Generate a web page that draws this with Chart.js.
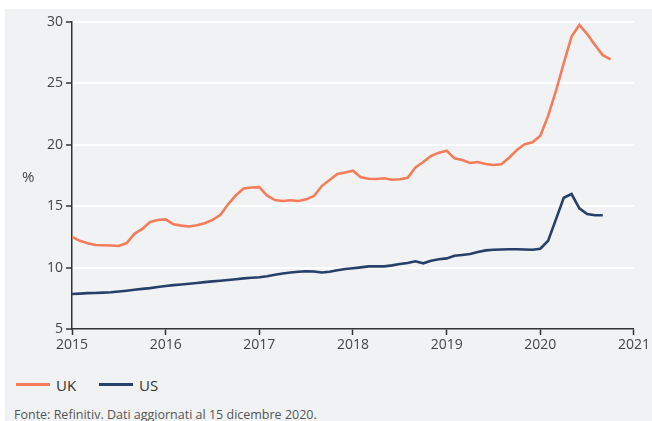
<!DOCTYPE html>
<html>
<head>
<meta charset="utf-8">
<script src="https://cdn.jsdelivr.net/npm/chart.js@4"></script>
<style>
  html, body { margin: 0; padding: 0; background: #fff; }
  #box { position: absolute; left: 5px; top: 9px; width: 647px; height: 412px; background: #f1f2f4; overflow: hidden;
         font-family: "Open Sans", "Noto Sans", sans-serif; color: #444; }
  #wrap { position: absolute; left: 0; top: 0; width: 647px; height: 351px; }
  #unit { position: absolute; left: 17px; top: 157px; font-size: 15px; color: #444; }
  #legend { position: absolute; left: 11px; top: 364px; font-size: 15px; color: #333; }
  #legend span.sw { display: inline-block; width: 34px; height: 3px; vertical-align: middle; margin-right: 6px; }
  #legend span.lab { vertical-align: middle; margin-right: 19px; }
  #source { position: absolute; left: 9px; top: 397px; font-size: 12.5px; color: #555; }
</style>
</head>
<body>
<div id="box">
  <div id="wrap"><canvas id="myChart" width="647" height="351"></canvas></div>
  <div id="unit">%</div>
  <div id="legend">
    <span class="sw" style="background:#f47c5a"></span><span class="lab">UK</span>
    <span class="sw" style="background:#27406a"></span><span class="lab">US</span>
  </div>
  <div id="source">Fonte: Refinitiv. Dati aggiornati al 15 dicembre 2020.</div>
</div>
<script>
  // monthly values, starting January 2015
  var start_year = 2015
  var uk_values = [
    12.5, 12.18, 11.98, 11.84, 11.82, 11.8, 11.76, 12.0, 12.75, 13.15, 13.72, 13.88,
    13.93, 13.52, 13.42, 13.35, 13.45, 13.62, 13.88, 14.28, 15.15, 15.9, 16.45, 16.52,
    16.55, 15.85, 15.5, 15.42, 15.48, 15.42, 15.56, 15.83, 16.64, 17.13, 17.62, 17.75,
    17.89, 17.35, 17.24, 17.21, 17.27, 17.16, 17.19, 17.32, 18.15, 18.6, 19.09, 19.36,
    19.52, 18.9, 18.76, 18.52, 18.6, 18.44, 18.36, 18.41, 18.95, 19.58, 20.04, 20.2,
    20.74, 22.35, 24.4, 26.64, 28.81, 29.76, 29.02, 28.13, 27.3, 26.96
  ]
  var us_values = [
    7.85, 7.88, 7.92, 7.93, 7.96, 7.99, 8.05, 8.12, 8.2, 8.27, 8.33, 8.42,
    8.5, 8.57, 8.62, 8.68, 8.75, 8.82, 8.88, 8.93, 8.99, 9.05, 9.12, 9.17,
    9.22, 9.3, 9.42, 9.52, 9.6, 9.66, 9.7, 9.68, 9.6, 9.66, 9.78, 9.88,
    9.95, 10.02, 10.1, 10.1, 10.1, 10.18, 10.3, 10.38, 10.52, 10.35, 10.56, 10.68,
    10.75, 10.97, 11.03, 11.1, 11.27, 11.4, 11.45, 11.47, 11.5, 11.5, 11.48, 11.45,
    11.54, 12.19, 13.93, 15.69, 15.99, 14.83, 14.36, 14.26, 14.26
  ]
  var year_ticks = [2015, 2016, 2017, 2018, 2019, 2020, 2021]
  var pct_ticks = [5, 10, 15, 20, 25, 30]

  function to_points(values){
    return values.map(function(v, i){ return { x: start_year + i / 12, y: v } })
  }

  var tick_font = { family: '"Open Sans", "Noto Sans", sans-serif', size: 14 }

  var ctx = document.getElementById('myChart').getContext('2d');
  var myChart = new Chart(ctx, {
    type: 'line',
    data: {
      datasets: [{
        label: 'UK',
        data: to_points(uk_values),
        borderColor: '#f47c5a',
        borderWidth: 2.6,
        pointRadius: 0,
        tension: 0
      }, {
        label: 'US',
        data: to_points(us_values),
        borderColor: '#27406a',
        borderWidth: 2.6,
        pointRadius: 0,
        tension: 0
      }]
    },
    options: {
      responsive: false,
      animation: false,
      layout: { padding: { top: 13, right: 16, left: 0, bottom: 0 } },
      plugins: { legend: { display: false }, tooltip: { enabled: false } },
      scales: {
        x: {
          type: 'linear',
          min: 2015,
          max: 2021,
          afterBuildTicks: function(scale){ scale.ticks = year_ticks.map(function(v){ return { value: v } }) },
          ticks: { color: '#444', font: tick_font, padding: 2, maxRotation: 0, callback: function(v){ return String(v) } },
          grid: { drawOnChartArea: false, drawTicks: true, tickLength: 6, tickColor: '#333', tickWidth: 1.5 },
          border: { color: '#333', width: 1.5 },
          afterFit: function(scale){ scale.height = 31 }
        },
        y: {
          min: 5,
          max: 30,
          afterBuildTicks: function(scale){ scale.ticks = pct_ticks.map(function(v){ return { value: v } }) },
          ticks: { color: '#444', font: tick_font, padding: 3 },
          grid: {
            color: function(c){ return c.tick && c.tick.value === 5 ? 'rgba(0,0,0,0)' : '#ffffff' },
            lineWidth: 2,
            drawTicks: true,
            tickLength: 6,
            tickColor: '#333',
            tickWidth: 1.5
          },
          border: { color: '#333', width: 1.5 },
          afterFit: function(scale){ scale.width = 67 }
        }
      }
    }
  });
</script>
</body>
</html>
